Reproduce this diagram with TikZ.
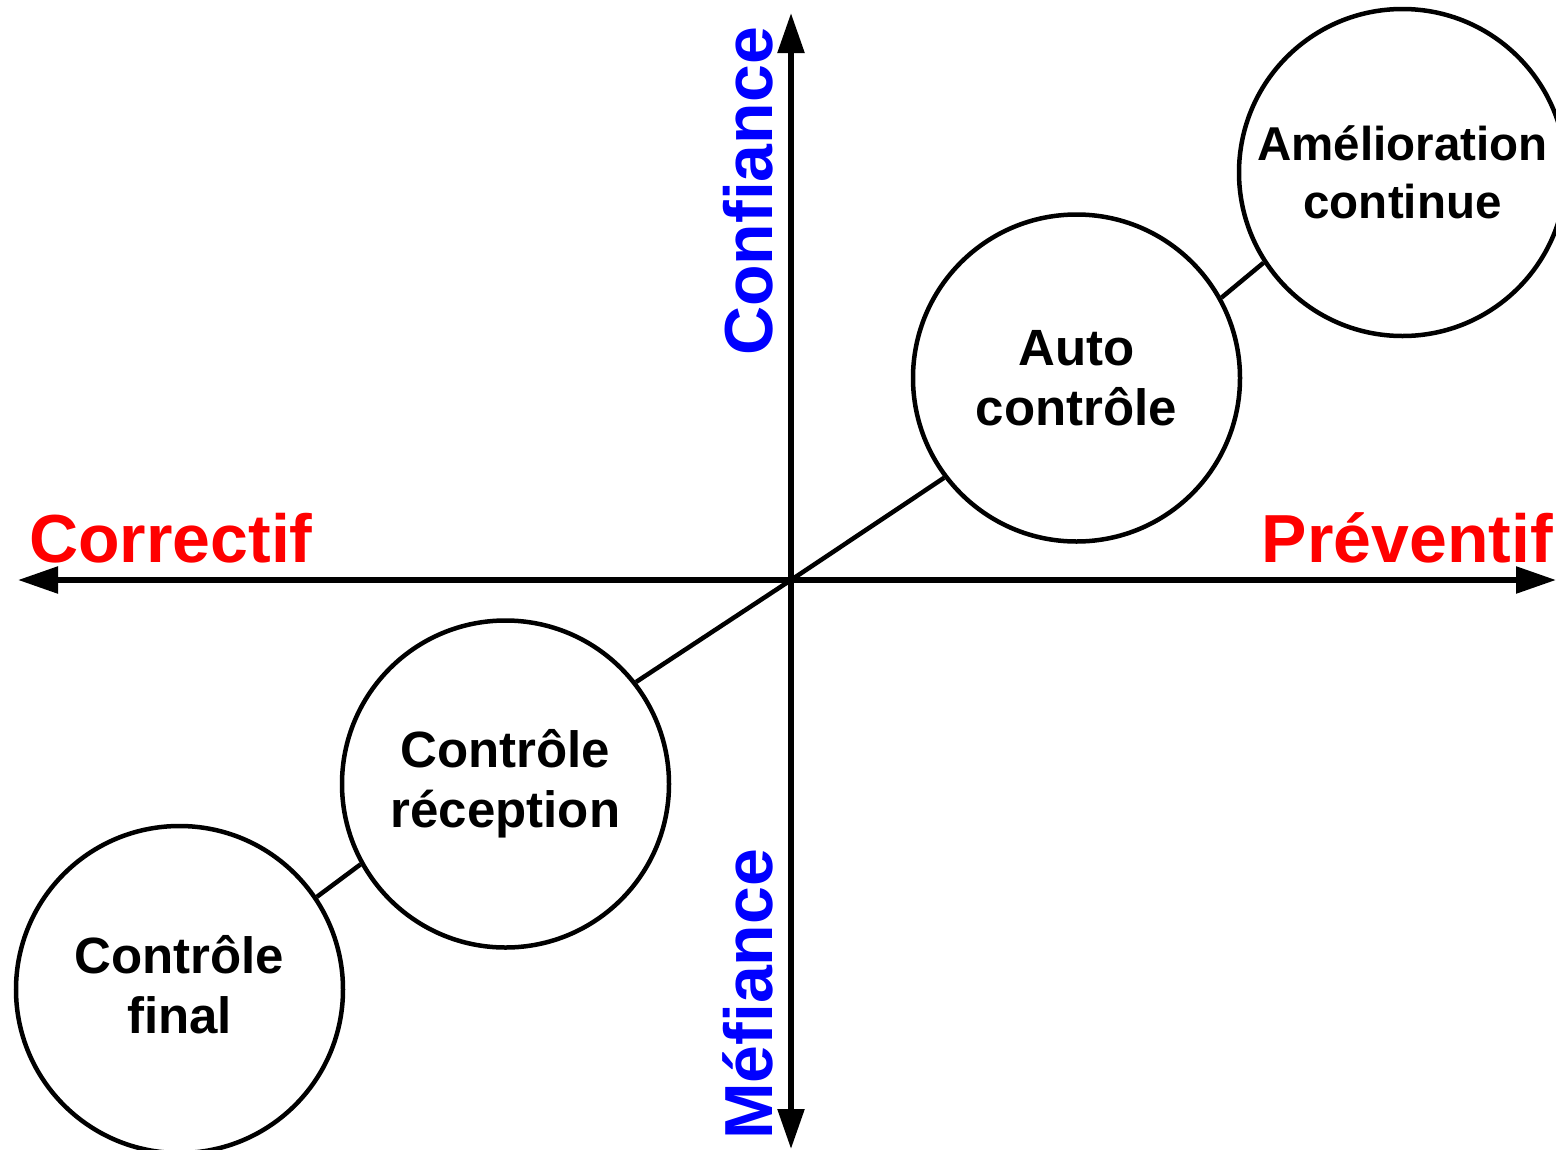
\documentclass[tikz,border=0pt]{standalone}
\usepackage{fontspec}
\setmainfont{Liberation Sans}
\usetikzlibrary{arrows.meta}
\definecolor{lblred}{RGB}{255,0,0}
\definecolor{lblblue}{RGB}{0,0,255}
\tikzset{
  circ/.style={circle, draw=black, line width=4.5pt, minimum size=327pt, inner sep=0pt,
    align=center, font=\bfseries\fontsize{51}{60}\selectfont},
  axis/.style={line width=5.5pt, {Triangle[length=40pt,width=26pt]}-{Triangle[length=40pt,width=26pt]}},
  link/.style={line width=4.5pt},
  hlbl/.style={text=lblred, inner sep=0pt, font=\bfseries\fontsize{68}{80}\selectfont},
  vlbl/.style={text=lblblue, inner sep=0pt, rotate=90, font=\bfseries\fontsize{68}{80}\selectfont},
}
\begin{document}
\begin{tikzpicture}[x=1pt,y=-1pt]
\useasboundingbox (0,0) rectangle (1556,1149);
% axes
\coordinate (O) at (791,580);
\coordinate (L) at (18,580);
\coordinate (R) at (1556,580);
\coordinate (T) at (791,13);
\coordinate (B) at (791,1149);
\draw[axis] (L) -- (R);
\draw[axis] (B) -- (T);
% axis labels
\node[hlbl, anchor=base west] (corr) at (29,562) {Correctif};
\node[hlbl, anchor=base east] (prev) at (1553,562) {Préventif};
\node[vlbl, anchor=base west] (conf) at (772,356) {Confiance};
\node[vlbl, anchor=base west] (mef) at (772,1140) {Méfiance};
% circles
\node[circ, font=\bfseries\fontsize{47.5}{58}\selectfont] (ame) at (1402.5,172.5) {Amélioration\\continue};
\node[circ] (auto) at (1076.5,378) {Auto\\contrôle};
\node[circ] (rec) at (505.5,784) {Contrôle\\réception};
\node[circ] (fin) at (179.5,989.5) {Contrôle\\final\vphantom{p}};
% connectors
\draw[link] (O) -- (auto.217.3);
\draw[link] (O) -- (rec.38);
\draw[link] (auto.29.8) -- (ame.213.6);
\draw[link] (rec.209.9) -- (fin.34.3);
\end{tikzpicture}
\end{document}
